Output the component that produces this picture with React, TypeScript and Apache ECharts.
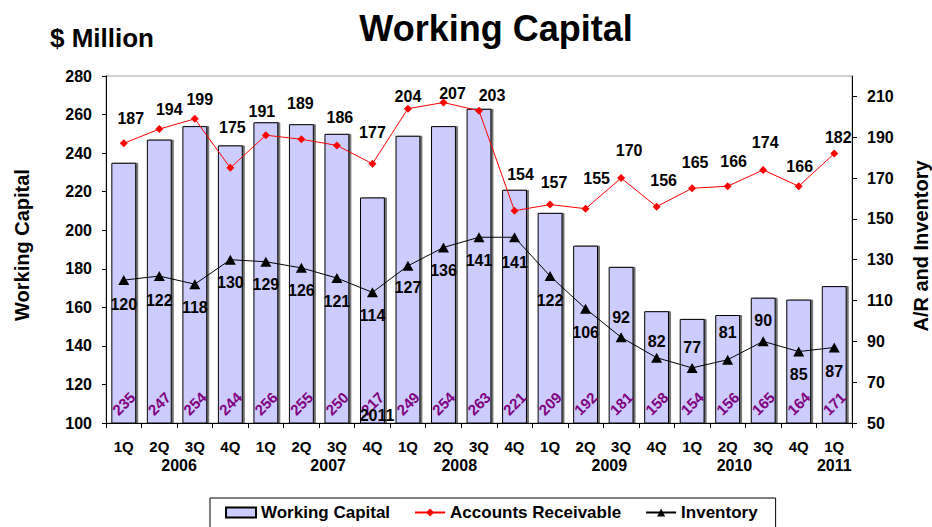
import React, { useEffect, useRef } from 'react';
import * as echarts from 'echarts';

const FONT = '"Liberation Sans", Arial, Helvetica, sans-serif';

// Data
const categories = [
  '1Q', '2Q', '3Q', '4Q',
  '1Q', '2Q', '3Q', '4Q',
  '1Q', '2Q', '3Q', '4Q',
  '1Q', '2Q', '3Q', '4Q',
  '1Q', '2Q', '3Q', '4Q',
  '1Q',
];
const years = ['2006', '2007', '2008', '2009', '2010', '2011'];
const yearFirstIndex = [0, 4, 8, 12, 16, 20];
const yearLastIndex = [3, 7, 11, 15, 19, 20];
const workingCapital = [235, 247, 254, 244, 256, 255, 250, 217, 249, 254, 263, 221, 209, 192, 181, 158, 154, 156, 165, 164, 171];
const accountsReceivable = [187, 194, 199, 175, 191, 189, 186, 177, 204, 207, 203, 154, 157, 155, 170, 156, 165, 166, 174, 166, 182];
const inventory = [120, 122, 118, 130, 129, 126, 121, 114, 127, 136, 141, 141, 122, 106, 92, 82, 77, 81, 90, 85, 87];
const leftMin = 100;
const leftMax = 280;
const rightMin = 50;
const rightMax = 220;
const tickStep = 20;

// Layout tweaks (label placement as in the reference)
const arLabelRise = [25, 20, 19, 40, 24, 36, 28, 31, 12, 9, 15, 36, 22, 30, 28, 26, 26, 25, 27, 20, 16];
const arLabelDx = [7, 10, 5, 2, -4, -1, 3, 0, 0, 9, 13, 6, 4, 11, 8, 7, 3, 6, 2, 1, 4];
const invLabelDy = [24, 24, 23, 23, 23, 23, 23, 23, 22, 23, 23, 25, 24, 24, -20, -16, -20, -27, -21, 23, 24];
const yearShift = [2, 9, -2, 6, -11, 0];

export default function App() {
  const ref = useRef<HTMLDivElement>(null);

  useEffect(() => {
    const chart = echarts.init(ref.current as HTMLDivElement, null, { renderer: 'svg' });

    const baseGraphics: any[] = [
      {
        type: 'text', x: 496, y: 28,
        style: { text: 'Working Capital', font: `bold 36px ${FONT}`, fill: '#000', textAlign: 'center', textVerticalAlign: 'middle' },
      },
      {
        type: 'text', x: 50, y: 38,
        style: { text: '$ Million', font: `bold 26px ${FONT}`, fill: '#000', textAlign: 'left', textVerticalAlign: 'middle' },
      },
      {
        type: 'text', x: 22, y: 245, rotation: Math.PI / 2,
        style: { text: 'Working Capital', font: `bold 20px ${FONT}`, fill: '#000', textAlign: 'center', textVerticalAlign: 'middle' },
      },
      {
        type: 'text', x: 921, y: 246, rotation: Math.PI / 2,
        style: { text: 'A/R and Inventory', font: `bold 20px ${FONT}`, fill: '#000', textAlign: 'center', textVerticalAlign: 'middle' },
      },
    ];

    const axisLabelStyle = { fontWeight: 'bold', fontSize: 16, color: '#000', fontFamily: FONT };

    const option: any = {
      animation: false,
      backgroundColor: '#ffffff',
      textStyle: { fontFamily: FONT },
      grid: { left: 106, right: 80, top: 76, bottom: 104, show: true, borderColor: '#a0a0a0', borderWidth: 1, backgroundColor: 'transparent' },
      legend: {
        data: [
          { name: 'Working Capital', icon: 'rect' },
          { name: 'Accounts Receivable' },
          { name: 'Inventory' },
        ],
        left: 210,
        top: 498,
        orient: 'horizontal',
        borderColor: '#000',
        borderWidth: 1,
        padding: [6, 18, 8, 15],
        itemGap: 24,
        itemWidth: 30,
        itemHeight: 10,
        textStyle: { fontWeight: 'bold', fontSize: 17, color: '#000', fontFamily: FONT },
      },
      xAxis: {
        type: 'category',
        data: categories,
        boundaryGap: true,
        axisLine: { show: true, lineStyle: { color: '#000', width: 1 } },
        axisTick: { show: true, interval: 0, length: 5, lineStyle: { color: '#000' } },
        axisLabel: { interval: 0, margin: 16, fontWeight: 'bold', fontSize: 15, color: '#000', fontFamily: FONT },
        splitLine: { show: false },
      },
      yAxis: [
        {
          type: 'value',
          min: leftMin,
          max: leftMax,
          interval: tickStep,
          axisLine: { show: true, lineStyle: { color: '#000' } },
          axisTick: { show: true, length: 4, lineStyle: { color: '#000' } },
          splitLine: { show: false },
          axisLabel: { ...axisLabelStyle, margin: 14 },
        },
        {
          type: 'value',
          position: 'right',
          min: rightMin,
          max: rightMax,
          interval: tickStep,
          axisLine: { show: true, lineStyle: { color: '#000' } },
          axisTick: { show: true, length: 5, lineStyle: { color: '#000' } },
          splitLine: { show: false },
          axisLabel: { ...axisLabelStyle, margin: 15, showMaxLabel: false },
        },
      ],
      graphic: baseGraphics,
      series: [
        {
          name: 'Working Capital',
          type: 'bar',
          yAxisIndex: 0,
          data: workingCapital,
          barCategoryGap: '30%',
          itemStyle: {
            color: '#ccccff',
            borderColor: '#000',
            borderWidth: 1,
            shadowColor: 'rgba(0,0,0,0.55)',
            shadowOffsetX: 2,
            shadowOffsetY: 0,
            shadowBlur: 0,
          },
          label: {
            show: true,
            position: 'insideBottom',
            distance: 20,
            rotate: 45,
            align: 'center',
            verticalAlign: 'middle',
            color: '#800080',
            fontWeight: 'bold',
            fontSize: 15,
            fontFamily: FONT,
          },
          z: 1,
        },
        {
          name: 'Accounts Receivable',
          type: 'line',
          yAxisIndex: 1,
          data: accountsReceivable.map((v, i) => ({ value: v, label: { offset: [arLabelDx[i], -arLabelRise[i]] } })),
          symbol: 'diamond',
          symbolSize: 8,
          itemStyle: { color: '#ff0000' },
          lineStyle: { color: '#ff0000', width: 1 },
          label: {
            show: true,
            position: 'inside',
            color: '#000',
            fontWeight: 'bold',
            fontSize: 16,
            fontFamily: FONT,
          },
          z: 3,
        },
        {
          name: 'Inventory',
          type: 'line',
          yAxisIndex: 1,
          data: inventory.map((v, i) => ({ value: v, label: { offset: [0, invLabelDy[i]] } })),
          symbol: 'triangle',
          symbolSize: [11, 10],
          itemStyle: { color: '#000' },
          lineStyle: { color: '#000', width: 1 },
          label: {
            show: true,
            position: 'inside',
            color: '#000',
            fontWeight: 'bold',
            fontSize: 16,
            fontFamily: FONT,
          },
          z: 3,
        },
      ],
    };

    chart.setOption(option);

    const yearGraphics = years.map((yr, k) => {
      const xa = chart.convertToPixel({ xAxisIndex: 0 }, yearFirstIndex[k]) as number;
      const xb = chart.convertToPixel({ xAxisIndex: 0 }, yearLastIndex[k]) as number;
      return {
        type: 'text',
        x: (xa + xb) / 2 + yearShift[k],
        y: 465,
        style: { text: yr, font: `bold 16px ${FONT}`, fill: '#000', textAlign: 'center', textVerticalAlign: 'middle' },
      };
    });

    // stray "2011" text that overlaps the 4Q 2007 bar in the reference
    const strayGraphic = {
      type: 'text', x: 377, y: 415, z: 100,
      style: { text: '2011', font: `bold 16px ${FONT}`, fill: '#000', textAlign: 'center', textVerticalAlign: 'middle' },
    };

    chart.setOption({ graphic: [...baseGraphics, ...yearGraphics, strayGraphic] });

    return () => {
      chart.dispose();
    };
  }, []);

  return (
    <div
      ref={ref}
      style={{ position: 'absolute', left: 0, top: 0, width: 932, height: 527 }}
    />
  );
}
